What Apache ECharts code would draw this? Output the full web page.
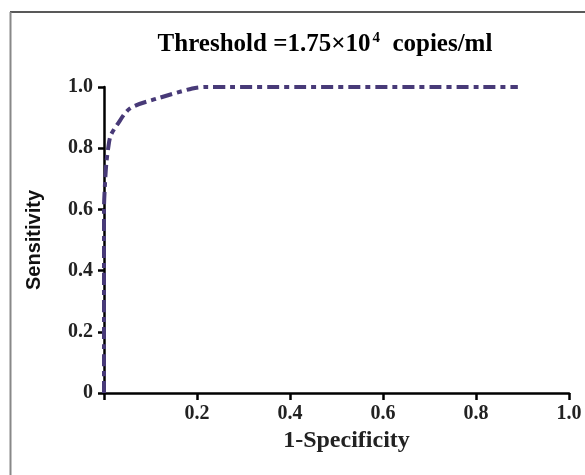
<!DOCTYPE html>
<html><head><meta charset="utf-8">
<script src="https://cdn.jsdelivr.net/npm/echarts@6/dist/echarts.min.js"></script>
<style>html,body{margin:0;padding:0;background:#fff}#c{width:585px;height:475px}</style>
</head><body><div id="c"></div>
<script>
const fpr = [0, 0, 0.002, 0.005, 0.009, 0.014, 0.028, 0.056, 0.114, 0.19, 0.22, 0.89];
const tpr = [0, 0.6, 0.68, 0.75, 0.8, 0.84, 0.876, 0.93, 0.962, 0.995, 1.0, 1.0];
const xTicks = ['0', '0.2', '0.4', '0.6', '0.8', '1.0'];
const yTicks = ['0', '0.2', '0.4', '0.6', '0.8', '1.0'];

const chart = echarts.init(document.getElementById('c'), null, {renderer: 'canvas'});
const serif = '"Liberation Serif", "DejaVu Serif", serif';
chart.setOption({
  animation: false,
  title: {
    text: '{a|Threshold =1.75×10}{s|4}{a|  copies/ml}',
    left: 320, top: 26, textAlign: 'center',
    textStyle: {
      rich: {
        a: {fontFamily: serif, fontWeight: 'bold', fontSize: 25, color: '#000'},
        s: {fontFamily: serif, fontWeight: 'bold', fontSize: 15, color: '#000', verticalAlign: 'top', padding: [0, 0, 12, 2]}
      }
    }
  },
  graphic: [
    {type: 'line', shape: {x1: 10, y1: 12, x2: 585, y2: 12}, style: {stroke: '#222', lineWidth: 1.5}},
    {type: 'line', shape: {x1: 10.5, y1: 12, x2: 10.5, y2: 475}, style: {stroke: '#888', lineWidth: 2}}
  ],
  grid: {left: 104, right: 16, top: 87, bottom: 82},
  xAxis: {
    type: 'value', min: 0, max: 1, interval: 0.2,
    name: '1-Specificity', nameLocation: 'middle', nameGap: 36,
    nameTextStyle: {fontFamily: serif, fontWeight: 'bold', fontSize: 24, color: '#222', padding: [0, 0, 0, 20]},
    axisLine: {lineStyle: {color: '#000', width: 2.5}},
    axisTick: {length: 7, lineStyle: {color: '#000', width: 2.5}},
    splitLine: {show: false},
    axisLabel: {
      fontFamily: serif, fontWeight: 'bold', fontSize: 20, color: '#222', margin: 11,
      formatter: v => { const i = Math.round(v / 0.2); return i === 0 ? '' : xTicks[i]; }
    }
  },
  yAxis: {
    type: 'value', min: 0, max: 1, interval: 0.2,
    name: 'Sensitivity', nameLocation: 'middle', nameGap: 60,
    nameTextStyle: {fontFamily: '"Liberation Sans", Arial, sans-serif', fontWeight: 'bold', fontSize: 20, color: '#111'},
    axisLine: {lineStyle: {color: '#000', width: 2.5}},
    axisTick: {length: 6, lineStyle: {color: '#000', width: 2.5}},
    splitLine: {show: false},
    axisLabel: {
      fontFamily: serif, fontWeight: 'bold', fontSize: 20, color: '#222', margin: 11,
      formatter: v => yTicks[Math.round(v / 0.2)]
    }
  },
  series: [{
    type: 'line',
    data: fpr.map((x, i) => [x, tpr[i]]),
    smooth: 0.3,
    showSymbol: false,
    lineStyle: {color: '#483a78', width: 4, type: [12, 5, 5, 5]}
  }]
});
</script></body></html>
